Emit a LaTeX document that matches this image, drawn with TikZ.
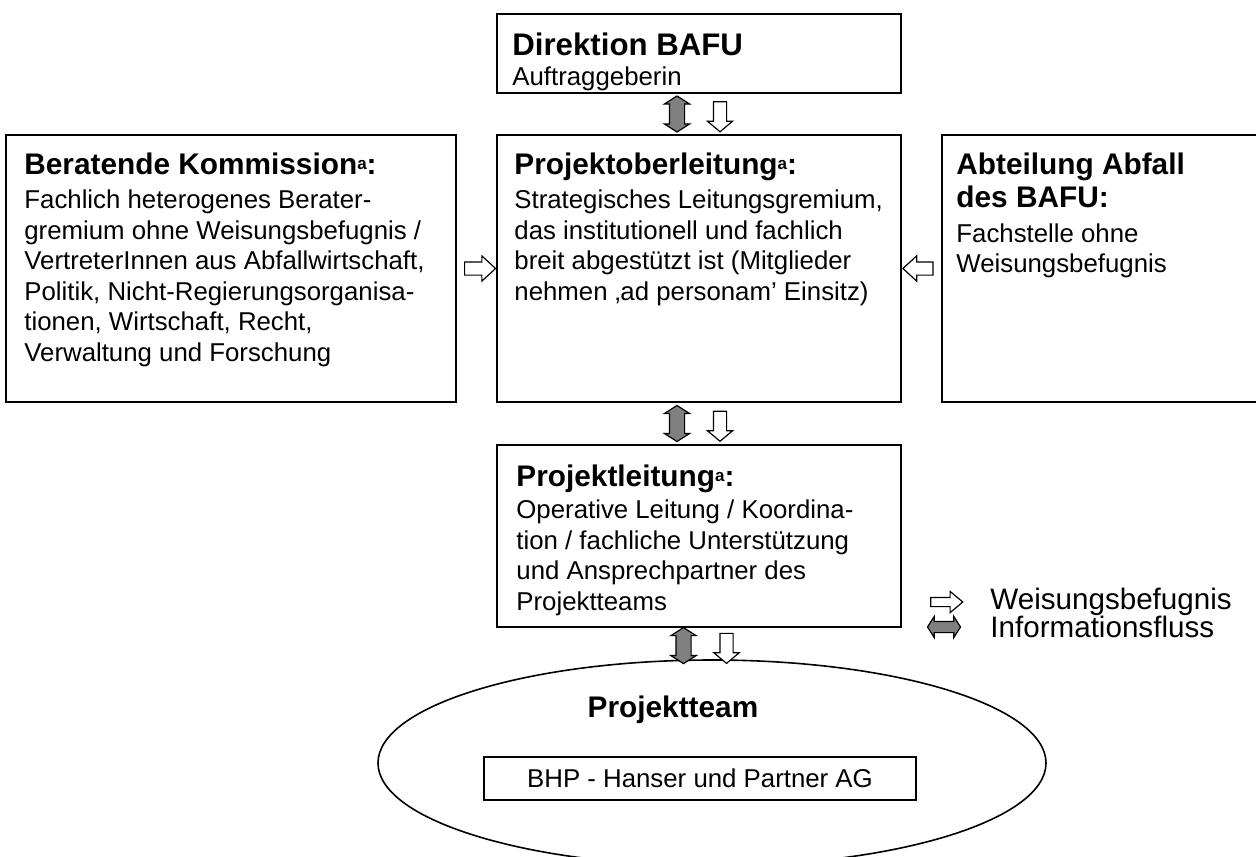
\documentclass[tikz,border=0pt]{standalone}
\usepackage{fontspec}
\setmainfont{Liberation Sans}
\usetikzlibrary{positioning, calc, shapes.geometric, shapes.arrows}
\tikzstyle{box} = [rectangle, draw=black, line width=1pt, minimum width=202pt, minimum height=133.5pt, inner sep=0pt]
\tikzstyle{txt} = [anchor=north west, align=left, inner sep=0pt, font=\fontsize{12.9}{15.3}\selectfont]
\tikzstyle{info} = [double arrow, draw=black, fill=black!50, line width=0.6pt, inner sep=3.5pt, minimum height=18pt, minimum width=12.5pt, double arrow tip angle=115, double arrow head extend=2.5pt, shape border rotate=90]
\tikzstyle{order} = [single arrow, draw=black, fill=white, line width=0.6pt, inner sep=3pt, minimum height=15pt, minimum width=12.5pt, single arrow tip angle=100, single arrow head extend=3pt]
\newcommand{\ttl}[1]{{\fontsize{14.9}{15.3}\selectfont\bfseries #1}}
\newcommand{\supa}{\raisebox{2.5pt}{\fontsize{8.5}{9}\selectfont a}}

\begin{document}
\begin{tikzpicture}[x=0.5pt, y=-0.5pt]
\useasboundingbox (0,0) rectangle (1256,856);
\clip (0,0) rectangle (1256,856);

%Boxes
\node (dir) [box, minimum height=39.5pt] at (699,53.5) {};
\node (oberl) [box, below=20pt of dir] {};
\node (komm) [box, minimum width=225pt, left=19.5pt of oberl] {};
\node (abt) [box, minimum width=170pt, right=19.5pt of oberl] {};
\node (leit) [box, minimum height=91pt, below=20.5pt of oberl] {};
%Projektteam
\node (team) [ellipse, draw=black, line width=0.8pt, minimum width=334pt, minimum height=103pt] at (712,763) {};
\node (teamtitle) [font=\fontsize{14.9}{15.3}\selectfont\bfseries] at (673,710) {Projektteam};
\node (bhp) [rectangle, draw=black, line width=0.8pt, minimum width=216pt, minimum height=21.5pt, font=\fontsize{12.9}{15.3}\selectfont] at (700,778.5) {BHP - Hanser und Partner AG};

%texts
\node (dirtxt) [txt] at ([xshift=8pt, yshift=-9.5pt]dir.north west) {{\fontsize{15.6}{15.3}\selectfont\bfseries Direktion BAFU}\\ Auftraggeberin};
\node (oberltxt) [txt] at ([xshift=9pt, yshift=-9.5pt]oberl.north west) {\ttl{Projektoberleitung\supa:}\\[1.5pt] Strategisches Leitungsgremium,\\ das institutionell und fachlich\\ breit abgestützt ist (Mitglieder\\ nehmen ‚ad personam’ Einsitz)};
\node (kommtxt) [txt] at ([xshift=9.5pt, yshift=-9.5pt]komm.north west) {\ttl{Beratende Kommission\supa:}\\[1.5pt] Fachlich heterogenes Berater-\\ gremium ohne Weisungsbefugnis /\\ VertreterInnen aus Abfallwirtschaft,\\ Politik, Nicht-Regierungsorganisa-\\ tionen, Wirtschaft, Recht,\\ Verwaltung und Forschung};
\node (abttxt) [txt] at ([xshift=7.5pt, yshift=-9.5pt]abt.north west) {\ttl{Abteilung Abfall}\\[1pt] \ttl{des BAFU:}\\[2pt] Fachstelle ohne\\ Weisungsbefugnis};
\node (leittxt) [txt] at ([xshift=10pt, yshift=-10pt]leit.north west) {\ttl{Projektleitung\supa:}\\[1pt] Operative Leitung / Koordina-\\ tion / fachliche Unterstützung\\ und Ansprechpartner des\\ Projektteams};

%arrows
\node (i1) [info] at ([xshift=-11pt]$(dir.south)!0.5!(oberl.north)$) {};
\node (o1) [order, shape border rotate=270] at ([xshift=10.5pt]$(dir.south)!0.5!(oberl.north)$) {};
\node (i2) [info] at ([xshift=-11pt]$(oberl.south)!0.5!(leit.north)$) {};
\node (o2) [order, shape border rotate=270] at ([xshift=10.5pt]$(oberl.south)!0.5!(leit.north)$) {};
\node (i3) [info] at ([xshift=-11pt, yshift=-1pt]$(leit.south)!0.5!(team.north)$) {};
\node (o3) [order, shape border rotate=270] at ([xshift=10.5pt, yshift=-1pt]$(leit.south)!0.5!(team.north)$) {};
\node (o4) [order, minimum height=15.5pt, minimum width=11.5pt, single arrow tip angle=85] at ($(komm.east)!0.5!(oberl.west)$) {};
\node (o5) [order, minimum height=15pt, minimum width=11.5pt, single arrow tip angle=85, shape border rotate=180] at ($(abt.west)!0.5!(oberl.east)$) {};

%legend
\node (legorder) [order, inner sep=2pt, minimum height=16pt, minimum width=9.5pt, single arrow tip angle=80] at (944,602) {};
\node (leginfo) [info, inner sep=2.5pt, minimum height=16.5pt, minimum width=8.5pt, shape border rotate=0] at (944,627) {};
\node (legordertxt) [anchor=west, inner sep=0pt, font=\fontsize{14.8}{16}\selectfont] at (990,602) {Weisungsbefugnis};
\node (leginfotxt) [anchor=west, inner sep=0pt, font=\fontsize{14.8}{16}\selectfont] at (990,627) {Informationsfluss};

\end{tikzpicture}
\end{document}
